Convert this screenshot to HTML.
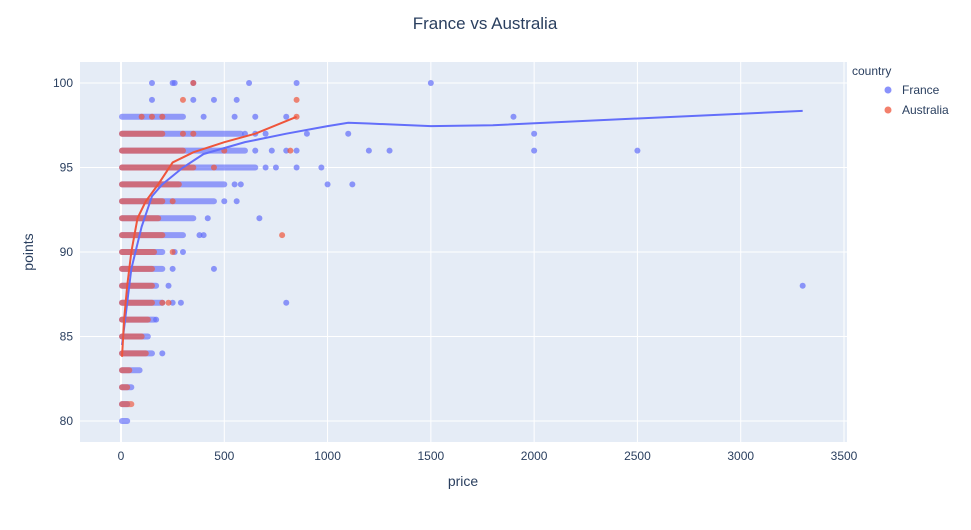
<!DOCTYPE html>
<html><head><meta charset="utf-8"><style>
body{margin:0;background:#fff;font-family:"Liberation Sans",sans-serif}
svg text{font-family:"Liberation Sans",sans-serif;fill:#2a3f5f}
</style></head><body>
<svg id="chart" width="971" height="525">
<rect x="80" y="62" width="767" height="380" fill="#e5ecf6"/>
<g id="grid"></g><g id="marks"></g><g id="lines"></g><g id="axes"></g>
<text x="485" y="29" text-anchor="middle" font-size="17">France vs Australia</text>
<text x="463" y="486" text-anchor="middle" font-size="14">price</text>
<text x="33" y="252" text-anchor="middle" font-size="14" transform="rotate(-90 33 252)">points</text>
<g>
<text x="852" y="75" font-size="12">country</text>
<g><circle cx="888" cy="90" r="3.5" fill="#636efa" opacity="0.75"/><text x="902" y="94" font-size="12">France</text></g>
<g><circle cx="888" cy="110" r="3.5" fill="#EF553B" opacity="0.75"/><text x="902" y="114" font-size="12">Australia</text></g>
</g>
</svg>
<script>
const xTicks=[0,500,1000,1500,2000,2500,3000,3500];
const yTicks=[80,85,90,95,100];
const scores=[80,81,82,83,84,85,86,87,88,89,90,91,92,93,94,95,96,97,98,99,100];
const frStripMax=[30,30,50,90,150,130,160,200,170,200,200,300,350,450,500,650,600,580,300,0,0];
const frOutX=[200,170,250,290,800,230,250,450,260,300,380,400,420,670,500,560,550,580,1000,1120,700,750,850,970,650,730,800,850,1200,1300,2000,2500,600,650,700,900,1100,2000,400,550,650,800,1900,150,350,450,560,150,250,260,350,620,850,1500,3300];
const frOutY=[84,86,87,87,87,88,89,89,90,90,91,91,92,92,93,93,94,94,94,94,95,95,95,95,96,96,96,96,96,96,96,96,97,97,97,97,97,97,98,98,98,98,98,99,99,99,99,100,100,100,100,100,100,100,88];
const auStripMax=[0,50,30,40,120,100,130,150,150,150,160,200,180,200,280,350,300,200,0,0,0];
const auOutX=[200,230,250,780,250,450,500,820,300,350,100,150,200,850,300,850,350];
const auOutY=[87,87,90,91,93,95,96,96,97,97,98,98,98,98,99,99,100];
const frTrendX=[5,20,50,100,150,200,300,400,600,800,1000,1100,1200,1500,1800,2500,3300];
const frTrendY=[84.5,86,89,91.5,93.3,94,95,95.8,96.5,97,97.45,97.65,97.6,97.45,97.5,97.9,98.35];
const auTrendX=[5,15,30,50,80,120,180,250,350,500,650,850];
const auTrendY=[83.8,86,88,90,92,93,94,95.3,95.9,96.5,97,98];
const X=v=>121+v*0.20657, Y=v=>421-(v-80)*16.9;
const NS="http://www.w3.org/2000/svg";
function mk(t,a,p){const e=document.createElementNS(NS,t);for(const k in a)e.setAttribute(k,a[k]);p.appendChild(e);return e;}
const grid=document.getElementById('grid'),axes=document.getElementById('axes'),marks=document.getElementById('marks'),lines=document.getElementById('lines');
xTicks.forEach(t=>{const l=mk('line',{x1:X(t),x2:X(t),y1:62,y2:442,stroke:'#fff','stroke-width':t===0?2:1},grid);


const tx=mk('text',{x:X(t),y:460,'text-anchor':'middle','font-size':12},axes);tx.textContent=t;

});
yTicks.forEach(t=>{const l=mk('line',{x1:80,x2:847,y1:Y(t),y2:Y(t),stroke:'#fff','stroke-width':1},grid);


const tx=mk('text',{x:73,y:Y(t)+4,'text-anchor':'end','font-size':12},axes);tx.textContent=t;

});
function strips(maxArr,col,name){scores.forEach((s,i)=>{if(maxArr[i]<=0)return;
const l=mk('line',{x1:X(5),x2:X(maxArr[i]),y1:Y(s),y2:Y(s),stroke:col,'stroke-width':6,'stroke-linecap':'round',opacity:0.65},marks);

});}
function pts(xs,ys,col,name){xs.forEach((x,i)=>{const c=mk('circle',{cx:X(x),cy:Y(ys[i]),r:3,fill:col,opacity:0.7},marks);

});}
strips(frStripMax,'#636efa','france');pts(frOutX,frOutY,'#636efa','france');
strips(auStripMax,'#EF553B','australia');pts(auOutX,auOutY,'#EF553B','australia');
function trend(xs,ys,col,name){const p=mk('polyline',{points:xs.map((x,i)=>X(x)+','+Y(ys[i])).join(' '),fill:'none',stroke:col,'stroke-width':2},lines);

}
trend(frTrendX,frTrendY,'#636efa','france-trendline');
trend(auTrendX,auTrendY,'#EF553B','australia-trendline');
</script>
</body></html>
